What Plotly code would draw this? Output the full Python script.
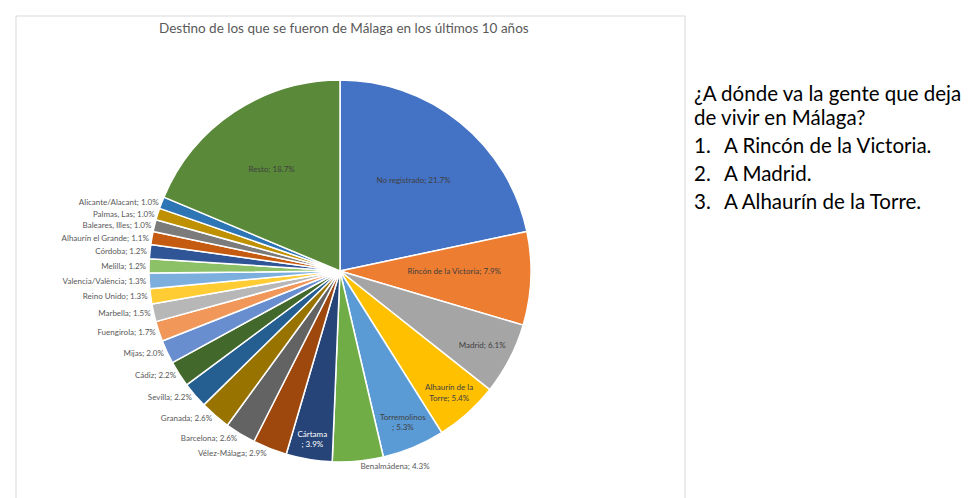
import plotly.graph_objects as go

labels = ["No registrado", "Rincón de la Victoria", "Madrid", "Alhaurín de la Torre",
          "Torremolinos", "Benalmádena", "Cártama", "Vélez-Málaga", "Barcelona", "Granada",
          "Sevilla", "Cádiz", "Mijas", "Fuengirola", "Marbella", "Reino Unido",
          "Valencia/València", "Melilla", "Córdoba", "Alhaurín el Grande", "Baleares, Illes",
          "Palmas, Las", "Alicante/Alacant", "Resto"]
values = [21.7, 7.9, 6.1, 5.4, 5.3, 4.3, 3.9, 2.9, 2.6, 2.6, 2.2, 2.2, 2.0, 1.7, 1.5, 1.3,
          1.3, 1.2, 1.2, 1.1, 1.0, 1.0, 1.0, 18.7]
display_labels = ["No registrado", "Rincón de la Victoria", "Madrid", "Alhaurín de la<br>Torre",
                  "Torremolinos<br>", "Benalmádena", "Cártama<br>", "Vélez-Málaga", "Barcelona",
                  "Granada", "Sevilla", "Cádiz", "Mijas", "Fuengirola", "Marbella", "Reino Unido",
                  "Valencia/València", "Melilla", "Córdoba", "Alhaurín el Grande",
                  "Baleares, Illes", "Palmas, Las", "Alicante/Alacant", "Resto"]
colors = ["#4472C4", "#ED7D31", "#A5A5A5", "#FFC000", "#5B9BD5", "#70AD47",
          "#264478", "#9E480E", "#636363", "#997300", "#255E91", "#43682B",
          "#698ED0", "#F1975A", "#B7B7B7", "#FFCD33", "#7CAFDD", "#8CC168",
          "#2F5597", "#C55A11", "#7B7B7B", "#BF9000", "#2E75B6", "#5A8A39"]
inside = {"No registrado", "Rincón de la Victoria", "Madrid", "Alhaurín de la Torre",
          "Torremolinos", "Cártama", "Resto"}

title_text = "Destino de los que se fueron de Málaga en los últimos 10 años"
side_title = ["¿A dónde va la gente que deja", "de vivir en Málaga?"]
side_items = ["A Rincón de la Victoria.", "A Madrid.", "A Alhaurín de la Torre."]

positions = ["inside" if l in inside else "outside" for l in labels]
texts = [f"{d}; {v:.1f}%" for d, v in zip(display_labels, values)]
text_colors = ["#FFFFFF" if l == "Cártama" else "#404040" for l in labels]

W, H = 979, 498
cx, cy, r = 332, 263, 191

fig = go.Figure(go.Pie(
    labels=labels, values=values, text=texts, textinfo="text",
    textposition=positions, sort=False, direction="clockwise", rotation=0,
    marker=dict(colors=colors, line=dict(color="white", width=1.5)),
    insidetextorientation="horizontal",
    textfont=dict(family="Lato, Carlito, sans-serif", size=8, color=text_colors),
    outsidetextfont=dict(family="Lato, Carlito, sans-serif", size=8, color="#595959"),
    domain=dict(x=[(cx - r) / W, (cx + r) / W], y=[(H - cy - r) / H, (H - cy + r) / H]),
    hoverinfo="label+value", showlegend=False,
))

fig.add_shape(type="rect", xref="paper", yref="paper",
              x0=8 / W, x1=677 / W, y0=1 - 495 / H, y1=1 - 8 / H,
              line=dict(color="#D9D9D9", width=1), layer="below")

fig.add_annotation(text=title_text,
                   xref="paper", yref="paper", x=336 / W, y=1 - 20 / H, showarrow=False,
                   font=dict(family="Lato, Carlito, sans-serif", size=13.5, color="#595959"),
                   xanchor="center", yanchor="middle")

side_font = dict(family="Lato, Carlito, sans-serif", size=20.5, color="#000000")
for i, line in enumerate(side_title):
    yy = 85 + i * 24
    fig.add_annotation(text=line, xref="paper", yref="paper", x=684 / W, y=1 - yy / H,
                       showarrow=False, xanchor="left", yanchor="middle", font=side_font)
for i, it in enumerate(side_items):
    yy = 137 + i * 28
    fig.add_annotation(text=f"{i + 1}.", xref="paper", yref="paper", x=684 / W, y=1 - yy / H,
                       showarrow=False, xanchor="left", yanchor="middle", font=side_font)
    fig.add_annotation(text=it, xref="paper", yref="paper", x=714 / W, y=1 - yy / H,
                       showarrow=False, xanchor="left", yanchor="middle", font=side_font)

fig.update_layout(width=W, height=H, margin=dict(l=0, r=0, t=0, b=0),
                  paper_bgcolor="white", plot_bgcolor="white")
fig.write_html("out.html")
